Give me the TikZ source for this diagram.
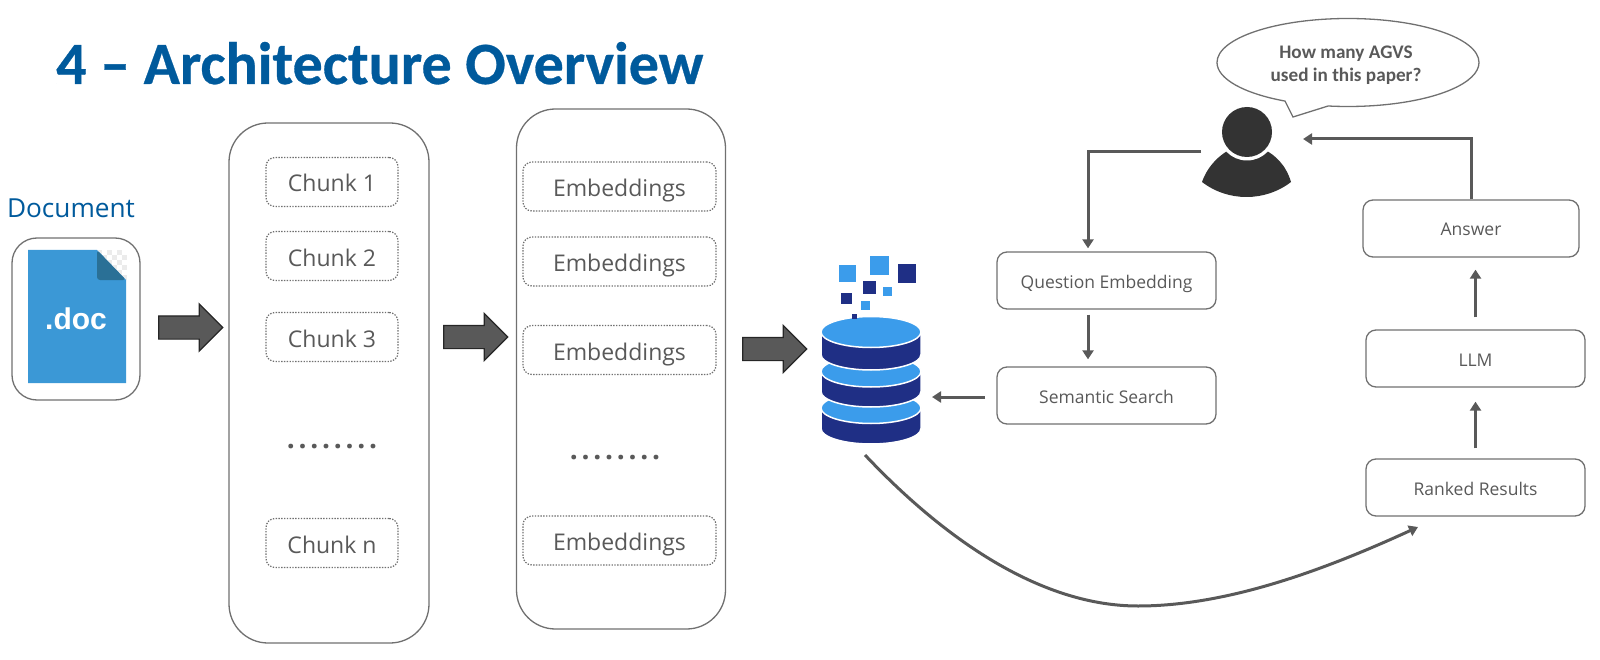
\documentclass[tikz,border=0pt]{standalone}
\usepackage{fontspec}
\setmainfont{Open Sans}
\newfontfamily\calibrifont{Carlito}
\newfontfamily\titlefont[FakeBold=0.5]{Carlito Bold}
\newfontfamily\arialfont{Liberation Sans}
\usepackage{xcolor}
\usepackage{tikz}
\usetikzlibrary{arrows.meta,positioning,shapes.arrows,shapes.callouts}
\definecolor{titleblue}{HTML}{005A9C}
\definecolor{labelgray}{HTML}{595959}
\definecolor{edgegray}{HTML}{707070}
\definecolor{flowgray}{HTML}{595959}
\definecolor{darkbody}{HTML}{333333}
\definecolor{docblue}{HTML}{3B98D6}
\definecolor{foldblue}{HTML}{2A7096}
\definecolor{dblight}{HTML}{3B9CEB}
\definecolor{dbdark}{HTML}{1F2F85}
\tikzset{
  panelbox/.style={draw=edgegray,line width=1.3pt,rounded corners=39pt,minimum width=200pt},
  dotbox/.style={draw=edgegray,line width=1.2pt,dash pattern=on 1.4pt off 1.4pt,rounded corners=9pt,
    minimum height=49pt,inner sep=0pt,text=labelgray,text height=20pt,text depth=0pt,
    font=\fontsize{23}{27}\selectfont},
  stepbox/.style={draw=edgegray,line width=1.3pt,rounded corners=10pt,minimum height=57pt,
    inner sep=0pt,text=labelgray,text height=15pt,text depth=0pt,font=\fontsize{17.5}{21}\selectfont},
  blockarrow/.style={single arrow,draw=black!85,fill=flowgray,line width=1.2pt,minimum height=64pt,
    inner xsep=0pt,inner ysep=11pt,single arrow head extend=12pt,single arrow head indent=0pt},
  flow/.style={draw=flowgray,line width=3pt,-{Triangle[length=9pt,width=11pt]}},
  dotrow/.style={text=labelgray,font=\fontsize{28}{32}\selectfont\bfseries\addfontfeature{LetterSpace=13.4}},
  cube/.style={minimum size=#1,inner sep=0pt}
}
\begin{document}
\begin{tikzpicture}[x=1pt,y=-1pt]
  \useasboundingbox (0,0) rectangle (1600,660);
  \node [anchor=base west,text=titleblue,inner sep=0pt,font=\titlefont\fontsize{60}{65}\selectfont] (title) at (56,84) {4 – Architecture Overview};

  \node [text=titleblue,font=\fontsize{26.2}{30}\selectfont] (doclabel) at (71,208) {Document};
  \node [draw=edgegray,line width=1.3pt,rounded corners=25pt,minimum width=128pt,minimum height=162pt] (docbox) at (76,319) {};
  \foreach \i in {0,...,5}
    \foreach \j in {0,...,5} {
      \pgfmathparse{int(mod(\i+\j,2))}
      \ifnum\pgfmathresult=0
        \fill [black!8] (97+\i*5,250+\j*5) rectangle +(5,5);
      \fi
    }
  \fill [docblue] (28,250) -- (97,250) -- (126,280) -- (126,383) -- (28,383) -- cycle;
  \fill [foldblue,rounded corners=3pt] (97,250) -- (97,280) -- (126,280) -- cycle;
  \node [text=white,font=\arialfont\bfseries\fontsize{30}{34}\selectfont] (docname) at (76,319) {.doc};
  \node [blockarrow] (arrowa) at (185,327.5) {};

  \node [panelbox,minimum height=520pt] (chunkpanel) at (329,383) {};
  \node [dotbox,minimum width=132pt] (chunka) at (332,182) {Chunk 1};
  \node [dotbox,minimum width=132pt] (chunkb) at (332,256) {Chunk 2};
  \node [dotbox,minimum width=132pt] (chunkc) at (332,337) {Chunk 3};
  \node [dotrow] (chunkdots) at (332,447) {........};
  \node [dotbox,minimum width=132pt] (chunkn) at (332,543) {Chunk n};
  \node [blockarrow] (arrowb) at (470,337) {};

  \node [panelbox,minimum width=209pt,minimum height=520pt] (embedpanel) at (621,369) {};
  \node [dotbox,minimum width=193pt] (embeda) at (619.5,186.5) {Embeddings};
  \node [dotbox,minimum width=193pt] (embedb) at (619.5,261.5) {Embeddings};
  \node [dotbox,minimum width=193pt] (embedc) at (619.5,350) {Embeddings};
  \node [dotrow] (embeddots) at (615,458) {........};
  \node [dotbox,minimum width=193pt] (embedn) at (619.5,540.5) {Embeddings};
  \node [blockarrow] (arrowc) at (769,349) {};

  \foreach \ytop/\ybot in {408/428.5,371.5/391.5,332/354.5} {
    \draw [white,line width=1.5pt,fill=dbdark] (821,\ytop) -- (821,\ybot)
      arc [start angle=180,end angle=360,x radius=50pt,y radius=15.5pt] -- (921,\ytop) -- cycle;
    \draw [white,line width=1.5pt,fill=dblight] (871,\ytop) ellipse [x radius=50pt,y radius=15.5pt];
  }
  \node (db) at (871,380) [minimum width=100pt,minimum height=128pt,inner sep=0pt] {};
  \foreach \cx/\cy/\cs in {847.5/273.5/17,879.5/265.5/19,887.5/291.5/9,865.5/305.5/9}
    \node [cube=\cs pt,fill=dblight] at (\cx,\cy) {};
  \foreach \cx/\cy/\cs in {907/273.5/18,869.5/287.5/13,846.5/298.5/11,854.5/316.5/5}
    \node [cube=\cs pt,fill=dbdark] at (\cx,\cy) {};

  \node [stepbox,minimum width=219pt] (question) at (1106.5,280.5) {Question Embedding};
  \node [stepbox,minimum width=219pt] (search) at (1106.5,395.5) {Semantic Search};
  \node [stepbox,minimum width=216pt] (answer) at (1471,228.5) {Answer};
  \node [stepbox,minimum width=219pt] (llm) at (1475.5,358.5) {LLM};
  \node [stepbox,minimum width=219pt] (ranked) at (1475.5,487.5) {Ranked Results};

  \node [ellipse callout,draw=edgegray,line width=1.3pt,minimum width=262pt,minimum height=88pt,inner sep=0pt,
    callout absolute pointer={(1293,117)},callout pointer arc=20] (bubble) at (1348,62.5) {};
  \node [align=center,text=labelgray,font=\calibrifont\bfseries\fontsize{19.2}{23}\selectfont] (bubbletext) at (1346,65) {How many AGVS\\used in this paper?};

  \fill [darkbody] (1202,182) .. controls (1208,165) and (1220,155) .. (1229,150) -- (1265,150)
    .. controls (1275,155) and (1286,165) .. (1291,182) .. controls (1265,202) and (1228,202) .. (1202,182) -- cycle;
  \node [circle,fill=white,minimum size=57pt,inner sep=0pt] (headgap) at (1247,132) {};
  \node [circle,fill=darkbody,minimum size=50pt,inner sep=0pt] (head) at (1247,132) {};
  \coordinate (userout) at (1201,152);
  \coordinate (userin) at (1303,139);
  \coordinate (searchout) at (985,397);
  \coordinate (dbin) at (932,397);
  \coordinate (dbfoot) at (865,455);
  \coordinate (rankedfoot) at (1418,527);

  \draw [flow] (userout) -| ([xshift=-18.5pt,yshift=3pt]question.north);
  \draw [flow] ([xshift=-18.5pt,yshift=-5pt]question.south) -- ([xshift=-18.5pt,yshift=7pt]search.north);
  \draw [flow] (searchout) -- (dbin);
  \draw [flow] (dbfoot) .. controls (950,545) and (1045,606) .. (1138,606)
    .. controls (1225,606) and (1320,572) .. (rankedfoot);
  \draw [flow] ([yshift=10pt]ranked.north) -- ([yshift=-14pt]llm.south);
  \draw [flow] ([yshift=12pt]llm.north) -- ([xshift=4.5pt,yshift=-12pt]answer.south);
  \draw [flow] (answer.north) |- (userin);
\end{tikzpicture}
\end{document}
